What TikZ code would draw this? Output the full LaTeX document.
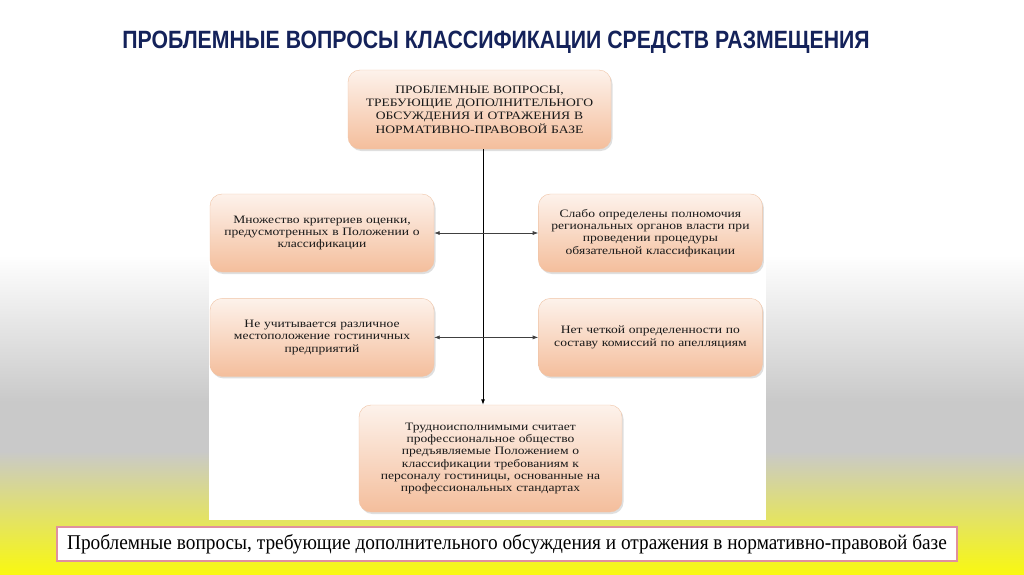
\documentclass[tikz,border=0pt]{standalone}
\usepackage{fontspec}
\setmainfont{Liberation Serif}
\newfontfamily\titlefont[FakeStretch=0.85]{Liberation Sans}
\newfontfamily\boxfont[FakeStretch=1.2]{Liberation Serif}
\newfontfamily\notefont[FakeStretch=0.92]{Liberation Serif}
\usepackage{xcolor}
\usetikzlibrary{arrows.meta,positioning,calc,shadows,backgrounds}
\definecolor{titleblue}{HTML}{14225A}
\definecolor{peachtop}{HTML}{FDF2EB}
\definecolor{peachbot}{HTML}{F4BE9C}
\definecolor{peachline}{HTML}{F0C4A6}
\definecolor{bggray}{HTML}{C9C9C9}
\definecolor{bgyellow}{HTML}{F9F811}
\definecolor{notepink}{HTML}{E0909E}

\begin{document}
\begin{tikzpicture}[
    x=1pt, y=-1pt,
    >={Latex[length=5.5pt,width=4pt]},
    issue/.style={draw=peachline, thin, rounded corners=12pt,
        top color=peachtop, bottom color=peachbot, align=center,
        minimum width=224pt, minimum height=78pt, text width=218pt, inner sep=0pt,
        font=\boxfont\fontsize{11.3}{12.2}\selectfont, text=black!90,
        drop shadow={opacity=0.25, shadow xshift=1.5pt, shadow yshift=-2pt}},
    headbox/.style={issue, minimum width=263pt, minimum height=79pt, text width=256pt,
        font=\boxfont\fontsize{11.3}{13.3}\selectfont},
    spine/.style={->, black, line width=0.9pt},
    link/.style={<->, black!75, line width=0.6pt},
]
\useasboundingbox (0,0) rectangle (1024,574);
% background bands
\fill[white] (0,0) rectangle (1024,256);
\shade[top color=white, bottom color=bggray] (0,255) rectangle (1024,402);
\fill[bggray] (0,401) rectangle (1024,452);
\shade[top color=bggray, bottom color=bgyellow] (0,451) rectangle (1024,574);
\fill[white] (209,150) rectangle (766,520);

\node[font=\titlefont\bfseries\fontsize{25}{28}\selectfont, text=titleblue] (title) at (496,42)
    {ПРОБЛЕМНЫЕ ВОПРОСЫ КЛАССИФИКАЦИИ СРЕДСТВ РАЗМЕЩЕНИЯ};

\node[headbox] (head) at (479.5,109.5) {ПРОБЛЕМНЫЕ ВОПРОСЫ,\\ТРЕБУЮЩИЕ ДОПОЛНИТЕЛЬНОГО\\ОБСУЖДЕНИЯ И ОТРАЖЕНИЯ В\\НОРМАТИВНО-ПРАВОВОЙ БАЗЕ};
\node[issue] (criteria) at (322,233) {Множество критериев оценки,\\предусмотренных в Положении о\\классификации};
\node[issue, right=104pt of criteria] (powers) {Слабо определены полномочия\\региональных органов власти при\\проведении процедуры\\обязательной классификации};
\node[issue, below=26pt of criteria] (location) {Не учитывается различное\\местоположение гостиничных\\предприятий};
\node[issue, below=26pt of powers] (appeals) {Нет четкой определенности по\\составу комиссий по апелляциям};
\node[issue, minimum width=263pt, minimum height=107pt, text width=256pt] (staff) at (490.5,458.5)
    {Трудноисполнимыми считает\\профессиональное общество\\предъявляемые Положением о\\классификации требованиям к\\персоналу гостиницы, основанные на\\профессиональных стандартах};

\draw[spine] ([xshift=3.5pt]head.south) -- ([xshift=3.5pt]head.south |- staff.north);
\draw[link] (criteria) -- (powers);
\draw[link] (location) -- (appeals);

\node[draw=notepink, line width=2pt, fill=white, minimum width=900pt, minimum height=34pt,
    font=\notefont\fontsize{21}{24}\selectfont] (note) at (507,544)
    {Проблемные вопросы, требующие дополнительного обсуждения и отражения в нормативно-правовой базе};
\end{tikzpicture}
\end{document}
